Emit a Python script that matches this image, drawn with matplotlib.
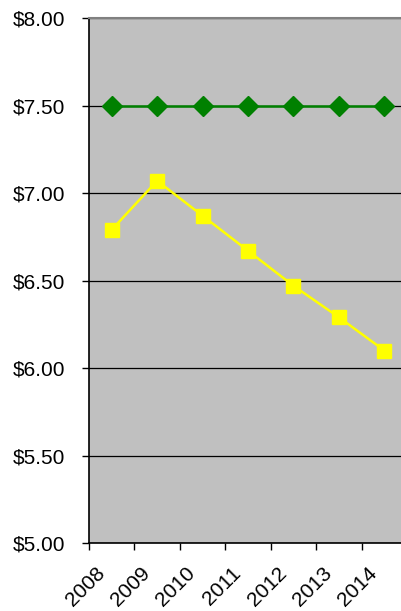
import matplotlib
matplotlib.use('Agg')
import matplotlib.pyplot as plt
from matplotlib.ticker import FixedLocator, FuncFormatter
from matplotlib.transforms import ScaledTranslation

years = ['2008', '2009', '2010', '2011', '2012', '2013', '2014']
green_vals = [7.50, 7.50, 7.50, 7.50, 7.50, 7.50, 7.50]
yellow_vals = [6.79, 7.07, 6.87, 6.67, 6.47, 6.29, 6.10]

plt.rcParams['font.family'] = ['Liberation Sans', 'DejaVu Sans']

fig = plt.figure(figsize=(4.01, 6.11), dpi=100)
ax = fig.add_axes([89 / 401, 68 / 611, 318 / 401, 525 / 611])
ax.set_facecolor('#C0C0C0')

x = list(range(len(years)))
ax.plot(x, green_vals, color='#008000', lw=1.8, marker='D', ms=10.5,
        zorder=3, clip_on=False)
ax.plot(x, yellow_vals, color='#FFFF00', lw=1.8, marker='s', ms=10.5,
        zorder=3, clip_on=False)

ax.set_xlim(-0.5, len(years) - 0.5)
ax.set_ylim(5.0, 8.0)

ax.set_yticks([5.0, 5.5, 6.0, 6.5, 7.0, 7.5, 8.0])
ax.yaxis.set_major_formatter(FuncFormatter(lambda v, p: '$%.2f' % v))
ax.tick_params(axis='y', direction='out', length=5, width=1, labelsize=15,
               pad=12)
ax.grid(axis='y', color='black', lw=0.9)
ax.set_axisbelow(True)

ax.xaxis.set_major_locator(FixedLocator([i - 0.5 for i in range(len(years) + 1)]))
ax.xaxis.set_major_formatter(FuncFormatter(lambda v, p: ''))
ax.xaxis.set_minor_locator(FixedLocator(x))
ax.set_xticklabels(years, minor=True)
ax.tick_params(axis='x', which='major', direction='out', length=5, width=1)
ax.tick_params(axis='x', which='minor', length=0, labelsize=15, pad=8)
shift = ScaledTranslation(-10 / 100, -16 / 100, fig.dpi_scale_trans)
for lab in ax.get_xticklabels(minor=True):
    lab.set_rotation(45)
    lab.set_rotation_mode('anchor')
    lab.set_ha('right')
    lab.set_va('center')
    lab.set_transform(lab.get_transform() + shift)

for s in ['left', 'bottom']:
    ax.spines[s].set_color('black')
    ax.spines[s].set_linewidth(1.2)
ax.spines['top'].set_color('#808080')
ax.spines['top'].set_linewidth(1.5)
ax.spines['right'].set_visible(False)

fig.savefig('out.png', dpi=100)
